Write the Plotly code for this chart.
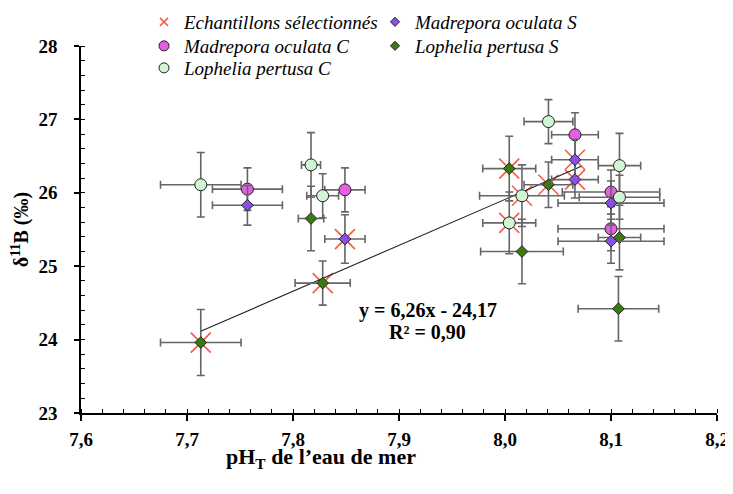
import plotly.graph_objects as go

# ---------------- data ----------------
mc_x = [7.757, 7.849, 8.066, 8.100, 8.100]
mc_y = [26.05, 26.04, 26.79, 26.01, 25.51]
mc_xe = [0.033, 0.019, 0.022, 0.046, 0.050]
mc_ye = [0.29, 0.30, 0.30, 0.30, 0.30]

ms_x = [7.757, 7.849, 8.066, 8.066, 8.100, 8.100]
ms_y = [25.83, 25.37, 26.45, 26.18, 25.86, 25.34]
ms_xe = [0.033, 0.019, 0.022, 0.022, 0.050, 0.050]
ms_ye = [0.27, 0.33, 0.28, 0.25, 0.30, 0.30]

ls_x = [7.713, 7.817, 7.828, 8.004, 8.016, 8.041, 8.108, 8.107]
ls_y = [23.96, 25.65, 24.77, 26.33, 25.20, 26.11, 25.39, 24.42]
ls_xe = [0.038, 0.012, 0.026, 0.025, 0.039, 0.023, 0.020, 0.038]
ls_ye = [0.45, 0.44, 0.30, 0.44, 0.44, 0.31, 0.44, 0.44]

lc_x = [7.713, 7.817, 7.828, 8.004, 8.016, 8.041, 8.108, 8.108]
lc_y = [26.11, 26.38, 25.96, 25.59, 25.96, 26.97, 26.37, 25.94]
lc_xe = [0.038, 0.009, 0.015, 0.025, 0.040, 0.023, 0.020, 0.038]
lc_ye = [0.44, 0.44, 0.30, 0.42, 0.42, 0.30, 0.44, 0.30]

sel_x = [7.713, 7.828, 7.849, 8.004, 8.016, 8.004, 8.041, 8.066, 8.066]
sel_y = [23.96, 24.77, 25.37, 26.33, 25.96, 25.59, 26.11, 26.45, 26.18]

trend_slope = 6.26
trend_intercept = -24.17
trend_label = "y = 6,26x - 24,17"
r2_label = "R² = 0,90"

x_range = [7.6, 8.2]
x_tick_step = 0.1
x_minor_step = 0.02
y_range = [23, 28]
y_tick_step = 1
y_minor_step = 0.2

names = ["Echantillons sélectionnés", "Madrepora oculata S", "Madrepora oculata C",
         "Lophelia pertusa S", "Lophelia pertusa C"]

# ---------------- styles ----------------
FONT = "Liberation Serif"
RED = "#f2604e"
MC_COL = "#e45fe6"
MS_COL = "#8a4fe8"
LS_COL = "#3b7a10"
LC_COL = "#d2f5d6"
ERR_COL = "#666666"


def err(arr):
    return dict(type="data", array=arr, visible=True, color=ERR_COL, thickness=1.6, width=4)


fig = go.Figure()

# selected samples (drawn behind)
fig.add_trace(go.Scatter(
    x=sel_x, y=sel_y, mode="markers", showlegend=False, hoverinfo="skip",
    marker=dict(symbol="x-thin", size=20, line=dict(color=RED, width=1.7), color=RED)))

# trend line
tx = [min(sel_x), max(sel_x) + 0.006]
ty = [trend_slope * v + trend_intercept for v in tx]
fig.add_trace(go.Scatter(x=tx, y=ty, mode="lines", showlegend=False,
                         line=dict(color="#222222", width=1.1)))

series = [
    (mc_x, mc_y, mc_xe, mc_ye, "circle", 12, MC_COL),
    (ls_x, ls_y, ls_xe, ls_ye, "diamond", 9, LS_COL),
    (lc_x, lc_y, lc_xe, lc_ye, "circle", 12, LC_COL),
    (ms_x, ms_y, ms_xe, ms_ye, "diamond", 9, MS_COL),
]
for sx, sy, sxe, sye, sym, sz, col in series:
    fig.add_trace(go.Scatter(
        x=sx, y=sy, mode="markers", showlegend=False,
        error_x=err(sxe), error_y=err(sye),
        marker=dict(symbol=sym, size=sz, color=col, line=dict(color="#222222", width=1))))

# legend entries (one legend per row)
leg = [
    (names[0], "x-thin", 8, RED, dict(color=RED, width=1.6), "legend"),
    (names[1], "diamond", 7, MS_COL, dict(color="#222222", width=1), "legend"),
    (names[2], "circle", 10, MC_COL, dict(color="#222222", width=1), "legend2"),
    (names[3], "diamond", 7, LS_COL, dict(color="#222222", width=1), "legend2"),
    (names[4], "circle", 10, LC_COL, dict(color="#222222", width=1), "legend3"),
]
for nm, sym, sz, col, ln, lg in leg:
    fig.add_trace(go.Scatter(x=[None], y=[None], mode="markers", name=nm, legend=lg,
                             marker=dict(symbol=sym, size=sz, color=col, line=ln)))

fig.add_annotation(x=7.927, y=24.39, xref="x", yref="y", text="<b>" + trend_label + "</b>",
                   showarrow=False, font=dict(family=FONT, size=20, color="black"))
fig.add_annotation(x=7.927, y=24.11, xref="x", yref="y", text="<b>" + r2_label + "</b>",
                   showarrow=False, font=dict(family=FONT, size=20, color="black"))

fig.add_annotation(x=0.378, y=-0.123, xref="paper", yref="paper", yanchor="middle",
                   text="<b>pH<sub>T</sub> de l’eau de mer</b>", showarrow=False,
                   font=dict(family=FONT, size=22, color="black"))


def legend_row(ycont):
    return dict(orientation="h", xref="container", yref="container",
                x=0.1876, y=ycont, xanchor="left", yanchor="middle",
                entrywidth=186, bgcolor="rgba(0,0,0,0)",
                font=dict(family=FONT, size=19, style="italic", color="black"))


TICKFONT = dict(family=FONT, size=19, weight="bold", color="black")

fig.update_layout(
    width=725, height=486,
    margin=dict(l=73, r=16, t=38, b=81, autoexpand=False),
    separators=", ",
    paper_bgcolor="white", plot_bgcolor="white",
    font=dict(family=FONT, color="black"),
    legend=legend_row(0.9712),
    legend2=legend_row(0.9218),
    legend3=legend_row(0.8765),
    xaxis=dict(range=x_range, tickmode="linear", tick0=x_range[0], dtick=x_tick_step,
               tickformat=".1f", automargin=False,
               showgrid=False, zeroline=False, showline=True, linecolor="black", linewidth=1.5,
               ticks="outside", ticklen=6, tickwidth=1.5, tickcolor="black",
               ticklabelstandoff=2, ticklabeloverflow="allow", tickfont=TICKFONT,
               minor=dict(ticks="inside", tick0=x_range[0], dtick=x_minor_step, ticklen=4,
                          tickwidth=1, tickcolor="black", showgrid=False)),
    yaxis=dict(range=y_range, tickmode="linear", tick0=y_range[0], dtick=y_tick_step,
               showgrid=False, zeroline=False, showline=True, linecolor="black", linewidth=1.5,
               ticks="outside", ticklen=5, tickwidth=1.5, tickcolor="black",
               ticklabelstandoff=13, automargin=False, tickfont=TICKFONT,
               minor=dict(ticks="inside", tick0=y_range[0], dtick=y_minor_step, ticklen=4,
                          tickwidth=1, tickcolor="black", showgrid=False),
               title=dict(text="<b>δ<sup>11</sup>B (‰)</b>", standoff=6,
                          font=dict(family=FONT, size=20, color="black"))),
)

fig.write_html("out.html")
